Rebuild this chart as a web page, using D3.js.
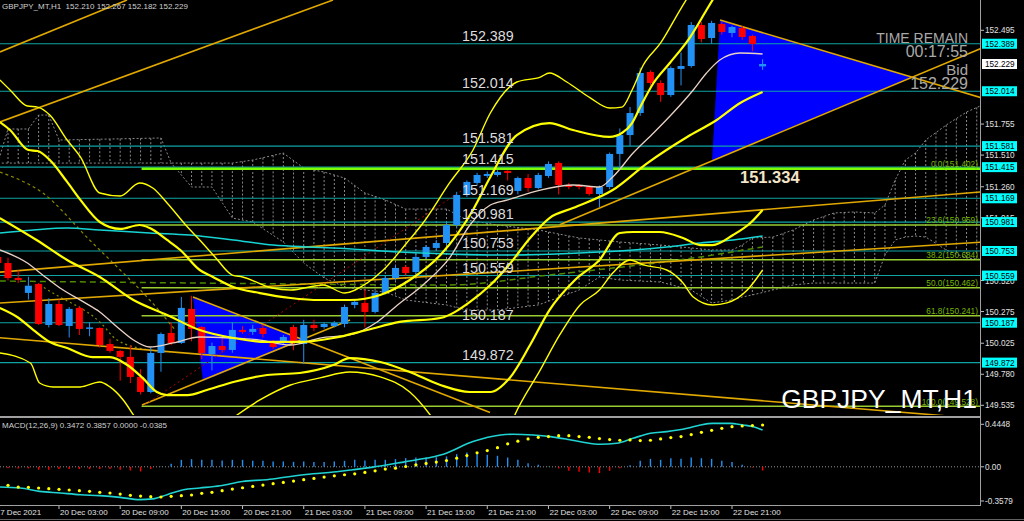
<!DOCTYPE html>
<html><head><meta charset="utf-8">
<script src="https://cdn.jsdelivr.net/npm/d3@7/dist/d3.min.js"></script>
<style>html,body{margin:0;padding:0;background:#000;overflow:hidden}svg{display:block}text{font-family:"Liberation Sans",Arial,sans-serif}</style>
</head><body><svg id="c" width="1024" height="521"></svg>
<script>
// ---------- DATA ----------
// bar index = hours since 20 Dec 00:00 (k = -3 .. 72)
const barIndex = d3.range(-3, 73);
const opens = [150.706,150.658,150.540,150.422,150.493,150.169,150.335,150.161,150.304,150.138,
 150.145,150.019,149.964,149.917,149.759,149.640,149.948,150.106,150.027,150.296,
 150.153,149.940,150.003,149.972,150.130,150.114,150.145,150.027,150.035,150.153,
 150.019,150.169,150.153,150.161,150.177,150.327,150.343,150.272,150.422,150.540,
 150.627,150.587,150.706,150.777,150.816,150.958,151.195,151.290,151.345,151.353,
 151.385,151.227,151.329,151.250,151.345,151.448,151.274,151.274,151.258,151.203,
 151.258,151.519,151.668,151.842,152.166,152.079,151.984,152.190,152.213,152.537,
 152.434,152.545,152.474,152.513,152.450,152.210];
const highs = [150.72,150.70,150.60,150.55,150.50,150.38,150.37,150.31,150.32,150.19,
 150.15,150.06,149.97,150.01,149.82,149.99,150.11,150.19,150.39,150.40,
 150.16,150.03,150.08,150.19,150.16,150.17,150.17,150.05,150.09,150.17,
 150.21,150.21,150.19,150.20,150.33,150.37,150.45,150.44,150.56,150.64,
 150.64,150.73,150.80,150.84,150.98,151.22,151.31,151.37,151.38,151.39,
 151.39,151.34,151.36,151.37,151.46,151.46,151.29,151.28,151.27,151.27,
 151.53,151.72,151.89,152.20,152.18,152.10,152.21,152.32,152.56,152.56,
 152.57,152.56,152.53,152.53,152.46,152.267];
const lows = [150.64,150.52,150.50,150.37,150.17,150.15,150.16,150.07,150.09,150.08,
 149.99,149.95,149.73,149.71,149.62,149.63,149.80,150.01,150.02,150.04,
 149.90,149.81,149.95,149.95,150.10,150.09,150.07,149.98,150.02,149.97,
 149.86,150.12,150.14,150.15,150.15,150.30,150.15,150.26,150.41,150.52,
 150.56,150.57,150.69,150.76,150.80,150.94,151.18,151.27,151.33,151.34,
 151.31,151.20,151.22,151.24,151.33,151.20,151.24,151.24,151.19,151.10,
 151.24,151.40,151.58,151.82,152.06,151.93,151.97,152.06,152.20,152.40,
 152.39,152.46,152.44,152.42,152.33,152.182];
const closes = [150.658,150.540,150.524,150.479,150.177,150.335,150.169,150.296,150.138,150.150,
 150.011,149.964,149.917,149.759,149.640,149.948,150.098,150.027,150.304,150.138,
 149.948,150.003,149.972,150.130,150.114,150.138,150.098,149.995,150.074,150.035,
 150.169,150.145,150.177,150.185,150.311,150.351,150.272,150.422,150.540,150.619,
 150.579,150.706,150.785,150.816,150.958,151.195,151.298,151.353,151.361,151.377,
 151.369,151.329,151.250,151.353,151.440,151.274,151.258,151.258,151.203,151.258,
 151.519,151.668,151.842,152.158,152.079,151.984,152.197,152.213,152.537,152.426,
 152.553,152.482,152.521,152.442,152.387,152.229];

const timeTickBars = [-3.3, 3, 9, 15, 21, 27, 33, 39, 45, 51, 57, 63, 69];
const timeTickLabels = ["17 Dec 2021","20 Dec 03:00","20 Dec 09:00","20 Dec 15:00","20 Dec 21:00",
 "21 Dec 03:00","21 Dec 09:00","21 Dec 15:00","21 Dec 21:00","22 Dec 03:00","22 Dec 09:00",
 "22 Dec 15:00","22 Dec 21:00"];
const priceTicks = [152.495,151.755,151.510,151.260,151.015,150.520,150.275,150.025,149.780,149.535];
const levelPrices = [152.389,152.014,151.581,151.415,151.169,150.981,150.753,150.559,150.187,149.872];
const fibNames = ["0.0","23.6","38.2","50.0","61.8","100.0"];
const fibPrices = [151.402,150.959,150.684,150.462,150.241,149.528];
const fibStartBar = 11.1;
const currentPrice = 152.229;
const markedPrice = "151.334";

// Bollinger-style bands [bar, price]
const bandUpperOuter = [[-2.8,152.103],[-1.8,152.024],[-0.1,151.897],[0.9,151.889],[2.1,151.826],[3.8,151.629],[5.1,151.495],[7.0,151.211],[9.0,151.187],[10.9,151.290],[12.2,151.250],[13.6,151.132],[15.6,150.942],[16.8,150.840],[18.3,150.706],[20.0,150.563],[21.0,150.548],[23.9,150.461],[25.7,150.445],[28.9,150.485],[31.0,150.421],[33.2,150.500],[34.8,150.603],[37.1,150.816],[38.7,150.974],[41.3,151.290],[43.6,151.550],[45.3,151.842],[47.9,152.087],[50.2,152.126],[51.1,152.158],[52.8,152.087],[55.1,151.961],[57.0,151.882],[58.2,151.889],[59.2,152.024],[60.3,152.221],[62.0,152.395],[63.9,152.655],[65.4,152.852]];
const bandUpper = [[-2.8,151.771],[-1.8,151.708],[0.0,151.550],[0.9,151.542],[2.1,151.471],[3.8,151.298],[5.1,151.156],[7.0,150.982],[9.0,150.927],[10.9,150.958],[11.9,150.934],[13.6,150.840],[14.9,150.761],[16.8,150.603],[18.1,150.548],[20.1,150.469],[22.7,150.421],[25.7,150.382],[28.6,150.366],[31.5,150.366],[34.5,150.406],[37.4,150.524],[40.4,150.721],[43.6,151.077],[45.3,151.337],[47.9,151.668],[51.1,151.763],[53.4,151.708],[57.0,151.653],[58.2,151.684],[59.2,151.763],[60.0,151.889],[61.3,152.079],[62.9,152.237],[64.9,152.442],[66.5,152.655],[67.8,152.829]];
const bandMid = [[-2.8,151.013],[0.8,150.840],[3.8,150.682],[7.0,150.548],[10.3,150.366],[13.6,150.248],[16.8,150.129],[20.1,150.066],[23.4,150.035],[26.6,150.035],[29.9,150.066],[33.2,150.129],[36.4,150.193],[40.4,150.224],[43.3,150.351],[45.3,150.484],[47.2,150.650],[49.2,150.856],[51.1,151.013],[53.4,151.092],[57.3,151.234],[60.7,151.447],[64.6,151.653],[67.5,151.787],[69.8,151.921],[72.0,152.008]];
const bandLower = [[-2.8,150.303],[-1.1,150.232],[0.5,150.129],[2.1,150.035],[3.8,149.987],[6.3,149.916],[8.0,149.916],[9.7,149.853],[11.2,149.751],[12.6,149.640],[13.6,149.616],[15.6,149.616],[17.5,149.656],[20.1,149.719],[23.4,149.774],[26.6,149.790],[29.9,149.853],[31.5,149.908],[34.5,149.877],[37.4,149.798],[40.4,149.695],[43.3,149.640],[45.3,149.640],[47.2,149.751],[49.2,150.011],[51.1,150.287],[53.6,150.524],[56.0,150.682],[58.0,150.895],[59.3,150.903],[61.9,150.903],[64.2,150.856],[65.9,150.800],[67.1,150.800],[69.1,150.879],[70.8,150.974],[72.0,151.077]];
const bandLowerOuter = [[-2.8,149.948],[0.2,149.869],[1.1,149.711],[2.4,149.680],[5.1,149.680],[7.0,149.719],[8.0,149.680],[9.3,149.577],[10.3,149.459],[11.9,149.261],[16.8,149.222],[19.8,149.419],[22.7,149.577],[25.7,149.695],[28.6,149.751],[31.5,149.798],[34.5,149.759],[37.4,149.640],[39.4,149.459],[41.3,149.222],[46.3,149.183],[47.7,149.459],[50.2,149.814],[52.1,150.090],[54.1,150.327],[56.0,150.445],[57.3,150.579],[59.0,150.682],[60.3,150.643],[62.6,150.603],[64.2,150.500],[65.2,150.390],[67.1,150.327],[68.5,150.343],[70.5,150.445],[72.0,150.603]];
const fastMA = [[-2.8,150.761],[-0.1,150.658],[1.4,150.564],[3.1,150.461],[5.4,150.351],[7.0,150.272],[8.7,150.153],[10.3,150.050],[11.9,149.995],[14.2,150.027],[16.8,150.074],[19.8,150.066],[22.7,150.050],[25.7,150.011],[28.6,150.066],[31.5,150.090],[34.2,150.193],[36.2,150.327],[38.7,150.485],[41.3,150.698],[43.3,150.958],[45.3,151.116],[47.0,151.156],[50.2,151.234],[53.4,151.274],[56.0,151.258],[57.3,151.337],[59.3,151.526],[61.3,151.684],[63.2,151.842],[65.2,152.024],[66.5,152.158],[67.8,152.261],[69.8,152.316],[72.0,152.308]];
const slowMA = [[-2.8,150.895],[0.5,150.919],[3.8,150.934],[7.0,150.919],[11.9,150.895],[15.8,150.879],[20.1,150.840],[24.0,150.800],[27.3,150.785],[29.9,150.777],[36.4,150.745],[46.3,150.721],[56.0,150.745],[59.3,150.761],[62.6,150.785],[65.9,150.816],[69.1,150.840],[72.0,150.871]];
// dashed lines (ichimoku tenkan / kijun / chikou style)
const oliveDashA = [[-2.8,151.376],[1.4,151.211],[6.0,150.840],[9.0,150.603],[11.9,150.366],[14.4,150.129]];
const oliveDashB = [[1.1,150.485],[2.4,150.421],[7.0,150.193],[8.7,150.050],[11.9,149.971],[13.9,149.956]];
const greenDash = [[-2.8,150.516],[16.8,150.500],[41.3,150.485],[51.1,150.564],[65.9,150.706],[72.0,150.785]];
// Ichimoku cloud
const cloudBars = [-3,-2,0,1,2,3,13,14,16,18,20,22,25,27,29,31,33,35,37,41,43,46,50,54,56,58,62,65,67,69,70,71,73,75,77,79,81,83,84,85,86,87,88,90,92,94];
const spanA = [151.447,151.716,151.716,151.826,151.826,151.629,151.645,151.447,151.447,151.447,151.447,151.471,151.526,151.408,151.376,151.329,151.211,151.156,151.084,151.084,150.998,150.958,150.919,150.856,150.840,150.824,150.800,150.777,150.761,150.761,150.800,150.856,150.863,150.919,150.998,151.053,151.061,151.053,151.116,151.313,151.471,151.526,151.629,151.747,151.850,151.921];
const spanB = [151.447,151.447,151.447,151.447,151.447,151.447,151.447,151.447,151.258,151.258,151.013,150.982,150.824,150.658,150.540,150.469,150.445,150.429,150.366,150.327,150.287,150.287,150.327,150.445,150.548,150.524,150.508,150.445,150.343,150.366,150.390,150.406,150.445,150.485,150.500,150.500,150.500,150.500,150.721,150.840,150.863,150.871,150.863,150.761,150.698,150.682];
// trend lines [bar, price] pairs
const trendLines = [
 [[-2.79,152.324],[9.67,152.734]],
 [[-2.79,151.772],[29.87,152.734]],
 [[-2.79,150.586],[93.5,151.220]],
 [[-2.79,150.342],[93.5,150.823]],
 [[-2.79,150.068],[93.5,149.428]],
 [[16.14,150.390],[45.27,149.478]],
 [[11.14,149.538],[31.54,150.208]],
 [[67.83,152.576],[93.5,151.961]],
 [[52.1,150.961],[93.5,152.355]]
];
const redDotted = [[11.4,149.538],[43.3,151.274]];
const triangleA = [[16.14,150.390],[26.93,150.051],[17.12,149.727]];
const triangleB = [[67.83,152.576],[86.66,152.126],[67.04,151.463]];
// MACD
const macdLine = [[-2.8,-0.211],[-0.8,-0.222],[1.1,-0.257],[3.1,-0.274],[5.1,-0.292],[7.0,-0.302],[9.0,-0.320],[10.9,-0.344],[12.2,-0.336],[13.6,-0.292],[15.2,-0.240],[16.8,-0.222],[18.8,-0.198],[21.0,-0.153],[23.4,-0.135],[25.7,-0.101],[27.9,-0.073],[29.9,-0.055],[31.8,-0.031],[33.8,-0.003],[36.2,0.039],[38.1,0.073],[40.7,0.132],[43.6,0.264],[46.3,0.333],[47.5,0.341],[49.5,0.333],[51.2,0.316],[52.8,0.289],[54.4,0.257],[56.1,0.236],[57.7,0.247],[59.3,0.299],[61.0,0.351],[62.6,0.368],[64.6,0.403],[65.9,0.4375],[67.1,0.455],[68.8,0.455],[70.1,0.4375],[71.1,0.420],[72.0,0.385]];
const macdSignal = [-0.190,-0.194,-0.212,-0.215,-0.222,-0.229,-0.236,-0.243,-0.250,-0.257,
 -0.267,-0.274,-0.285,-0.299,-0.306,-0.313,-0.316,-0.309,-0.302,-0.295,
 -0.278,-0.267,-0.250,-0.233,-0.219,-0.205,-0.191,-0.177,-0.163,-0.149,
 -0.135,-0.122,-0.108,-0.094,-0.083,-0.073,-0.059,-0.042,-0.024,-0.014,
 0.003,0.021,0.035,0.049,0.066,0.090,0.118,0.146,0.170,0.200,
 0.240,0.268,0.292,0.309,0.316,0.326,0.326,0.316,0.309,0.295,
 0.285,0.278,0.281,0.274,0.278,0.292,0.306,0.316,0.337,0.361,
 0.382,0.403,0.420,0.427,0.431,0.4375];
const macdHist = [-0.010,-0.014,-0.017,-0.017,-0.031,-0.031,-0.024,-0.024,-0.024,-0.024,
 -0.024,-0.024,-0.031,-0.038,-0.049,-0.024,0.003,0.031,0.073,0.080,
 0.073,0.073,0.066,0.073,0.073,0.0625,0.0625,0.056,0.056,0.052,
 0.056,0.049,0.049,0.056,0.0625,0.073,0.066,0.073,0.073,0.080,
 0.090,0.097,0.097,0.101,0.108,0.132,0.149,0.132,0.125,0.115,
 0.097,0.073,0.038,0.021,0.003,-0.017,-0.042,-0.052,-0.059,-0.066,
 -0.042,-0.014,0.017,0.063,0.083,0.073,0.090,0.083,0.097,0.090,
 0.083,0.0625,0.049,0.021,-0.007,-0.0385];
const macdTicks = [0.4448, 0.00, -0.3579];
const macdTickLabels = ["0.4448","0.00","-0.3579"];

// ---------- DRAW ----------
const svg = d3.select('#c');
const PR = 980, MB = 415;
const x = d3.scaleLinear().domain([0,72]).range([28.4,762.6]);
const y = d3.scaleLinear().domain([149.535,152.495]).range([405.3,30.3]);
const ym = d3.scaleLinear().domain([-0.3579,0.4448]).range([501,424.3]);

svg.append('rect').attr('width',1024).attr('height',521).attr('fill','#000');
const defs = svg.append('defs');
defs.append('clipPath').attr('id','mc').append('rect').attr('x',0).attr('y',0).attr('width',PR).attr('height',MB);
defs.append('clipPath').attr('id','dc').append('rect').attr('x',0).attr('y',419).attr('width',PR).attr('height',86);
const g = svg.append('g').attr('clip-path','url(#mc)');

const lineP = d3.line().x(d=>x(d[0])).y(d=>y(d[1]));
const curveP = d3.line().x(d=>x(d[0])).y(d=>y(d[1])).curve(d3.curveMonotoneX);

// triangles (background)
[triangleA, triangleB].forEach(t=>{
  g.append('path').attr('d', lineP(t)+'Z').attr('fill','#0000ff');
});

// ichimoku cloud
const cloudTop = cloudBars.map((k,i)=>[k,spanA[i]]);
const cloudBot = cloudBars.map((k,i)=>[k,spanB[i]]);
const interp = (arr,k)=>{ for(let i=0;i<arr.length-1;i++){ if(k>=arr[i][0]&&k<=arr[i+1][0]){const t=(k-arr[i][0])/(arr[i+1][0]-arr[i][0]||1);return arr[i][1]+t*(arr[i+1][1]-arr[i][1]);} } return arr[arr.length-1][1]; };
d3.range(-3,95).forEach(k=>{
  const a=interp(cloudTop,k), b=interp(cloudBot,k);
  if(Math.abs(a-b)>0.005) g.append('line').attr('x1',x(k)).attr('x2',x(k)).attr('y1',y(a)).attr('y2',y(b))
    .attr('stroke','#8a8a8a').attr('stroke-width',1).attr('stroke-dasharray','2,2');
});
[cloudTop,cloudBot].forEach(c=>g.append('path').attr('d',lineP(c)).attr('fill','none').attr('stroke','#8a8a8a').attr('stroke-width',1).attr('stroke-dasharray','2,2'));

// horizontal levels
levelPrices.forEach(p=>{
  g.append('line').attr('x1',0).attr('x2',PR).attr('y1',y(p)).attr('y2',y(p)).attr('stroke','#0fa3a3').attr('stroke-width',1.1);
});
// fib lines
fibPrices.forEach((p,i)=>{
  g.append('line').attr('x1',x(fibStartBar)).attr('x2',PR).attr('y1',y(p)).attr('y2',y(p))
   .attr('stroke', i===0?'#7cfc00':'#9acd32').attr('stroke-width', i===0?2.6:1.5);
});

// dashed ichimoku-style lines
const dashC=(data,col,w,da)=>g.append('path').attr('d',curveP(data)).attr('fill','none').attr('stroke',col).attr('stroke-width',w).attr('stroke-dasharray',da);
dashC(greenDash,'#4e8a00',1.5,'6,4');
dashC(oliveDashA,'#8a8a00',1.2,'3,3');
dashC(oliveDashB,'#8a8a00',1.2,'2,3');

// trend lines
trendLines.forEach(t=>g.append('path').attr('d',lineP(t)).attr('fill','none').attr('stroke','#e0a800').attr('stroke-width',1.6));
g.append('path').attr('d',lineP(redDotted)).attr('fill','none').attr('stroke','#b00000').attr('stroke-width',1).attr('stroke-dasharray','2,3');

// candles
const bars = barIndex.map((k,i)=>({k,o:opens[i],h:highs[i],l:lows[i],c:closes[i]}));
const cg = g.append('g');
bars.forEach(b=>{
  const up = b.c>=b.o, col = up?'#2291f5':'#ff0000';
  cg.append('line').attr('x1',x(b.k)).attr('x2',x(b.k)).attr('y1',y(b.h)).attr('y2',y(b.l)).attr('stroke',col).attr('stroke-width',1);
  const top=y(Math.max(b.o,b.c)), bot=y(Math.min(b.o,b.c));
  cg.append('rect').attr('x',x(b.k)-3.5).attr('y',top).attr('width',7).attr('height',Math.max(1.2,bot-top)).attr('fill',col);
});

// indicator curves
const drawC=(data,col,w)=>g.append('path').attr('d',curveP(data)).attr('fill','none').attr('stroke',col).attr('stroke-width',w);
drawC(slowMA,'#17d4d4',1.6);
drawC(fastMA,'#e9d2c4',1.3);
drawC(bandUpperOuter,'#ffff00',1.4);
drawC(bandLowerOuter,'#ffff00',1.4);
drawC(bandUpper,'#ffff00',2.2);
drawC(bandLower,'#ffff00',2.2);
drawC(bandMid,'#ffff00',2.2);

// level labels in chart
levelPrices.forEach(p=>{
  g.append('text').attr('x',462).attr('y',y(p)-3).attr('fill','#dcdcdc').attr('font-size','14.3px').text(p.toFixed(3));
});
fibPrices.forEach((p,i)=>{
  g.append('text').attr('x',978).attr('y',y(p)-1.5).attr('text-anchor','end').attr('fill','#76b800').attr('font-size','8.3px')
   .text(fibNames[i]+'('+p.toFixed(3)+')');
});
g.append('text').attr('x',740).attr('y',y(+markedPrice)+6).attr('fill','#f4e4c8').attr('font-size','16.5px')
  .attr('font-weight','bold').attr('font-family','"DejaVu Sans",sans-serif').text(markedPrice);

// info texts
const info = [["TIME REMAIN",43,14],["00:17:55",57,16],["Bid",75,15],[currentPrice.toFixed(3),88.5,16]];
info.forEach(t=>g.append('text').attr('x',968).attr('y',t[1]).attr('text-anchor','end').attr('fill','#a9a9a9').attr('font-size',t[2]+'px').text(t[0]));
g.append('text').attr('x',977).attr('y',408).attr('text-anchor','end').attr('fill','#ffffff').attr('font-size','26.5px').text('GBPJPY_MT,H1');
svg.append('text').attr('x',2).attr('y',9).attr('fill','#d0d0d0').attr('font-size','8px').attr('xml:space','preserve')
  .text('GBPJPY_MT,H1  152.210 152.267 152.182 152.229');

// borders
svg.append('rect').attr('x',0).attr('y',416).attr('width',PR+1).attr('height',2).attr('fill','#a0a0a0');
svg.append('line').attr('x1',PR+0.5).attr('x2',PR+0.5).attr('y1',0).attr('y2',506).attr('stroke','#a0a0a0');
svg.append('line').attr('x1',0).attr('x2',PR+1).attr('y1',505.5).attr('y2',505.5).attr('stroke','#a0a0a0');
svg.append('line').attr('x1',0).attr('x2',1024).attr('y1',519.5).attr('y2',519.5).attr('stroke','#606060');

// price axis
priceTicks.forEach(p=>{
  svg.append('line').attr('x1',PR+1).attr('x2',PR+4).attr('y1',y(p)).attr('y2',y(p)).attr('stroke','#c0c0c0');
  svg.append('text').attr('x',985).attr('y',y(p)+3).attr('fill','#e0e0e0').attr('font-size','8.2px').text(p.toFixed(3));
});
levelPrices.forEach(p=>{
  svg.append('rect').attr('x',982).attr('y',y(p)-5).attr('width',35).attr('height',10).attr('fill','#00ffff');
  svg.append('text').attr('x',985).attr('y',y(p)+3).attr('fill','#000').attr('font-size','8.2px').text(p.toFixed(3));
});
svg.append('rect').attr('x',982).attr('y',y(currentPrice)-5).attr('width',35).attr('height',10).attr('fill','#ffffff');
svg.append('text').attr('x',985).attr('y',y(currentPrice)+3).attr('fill','#000').attr('font-size','8.2px').text(currentPrice.toFixed(3));

// time axis
timeTickBars.forEach((k,i)=>{
  svg.append('line').attr('x1',x(k)).attr('x2',x(k)).attr('y1',506).attr('y2',509).attr('stroke','#c0c0c0');
  svg.append('text').attr('x',x(k)+1).attr('y',514.5).attr('fill','#e0e0e0').attr('font-size','8px').text(timeTickLabels[i]);
});

// MACD panel
const d = svg.append('g').attr('clip-path','url(#dc)');
d.append('line').attr('x1',0).attr('x2',PR).attr('y1',ym(0)).attr('y2',ym(0)).attr('stroke','#909090').attr('stroke-dasharray','1,2');
barIndex.forEach((k,i)=>{
  const v=macdHist[i];
  d.append('line').attr('x1',x(k)).attr('x2',x(k)).attr('y1',ym(0)).attr('y2',ym(v))
   .attr('stroke', v>=0?'#2291f5':'#ff0000').attr('stroke-width',1.4);
});
d.append('path').attr('d',d3.line().x(p=>x(p[0])).y(p=>ym(p[1])).curve(d3.curveMonotoneX)(macdLine))
 .attr('fill','none').attr('stroke','#1fd3d3').attr('stroke-width',1.6);
barIndex.forEach((k,i)=>{
  d.append('circle').attr('cx',x(k)).attr('cy',ym(macdSignal[i])).attr('r',1.6).attr('fill','#ffff00');
});
svg.append('text').attr('x',2).attr('y',428).attr('fill','#d0d0d0').attr('font-size','8px')
  .text('MACD(12,26,9) 0.3472 0.3857 0.0000 -0.0385');
macdTicks.forEach((v,i)=>{
  svg.append('line').attr('x1',PR+1).attr('x2',PR+4).attr('y1',ym(v)).attr('y2',ym(v)).attr('stroke','#c0c0c0');
  svg.append('text').attr('x',985).attr('y',ym(v)+3).attr('fill','#e0e0e0').attr('font-size','8.2px').text(macdTickLabels[i]);
});
</script></body></html>
